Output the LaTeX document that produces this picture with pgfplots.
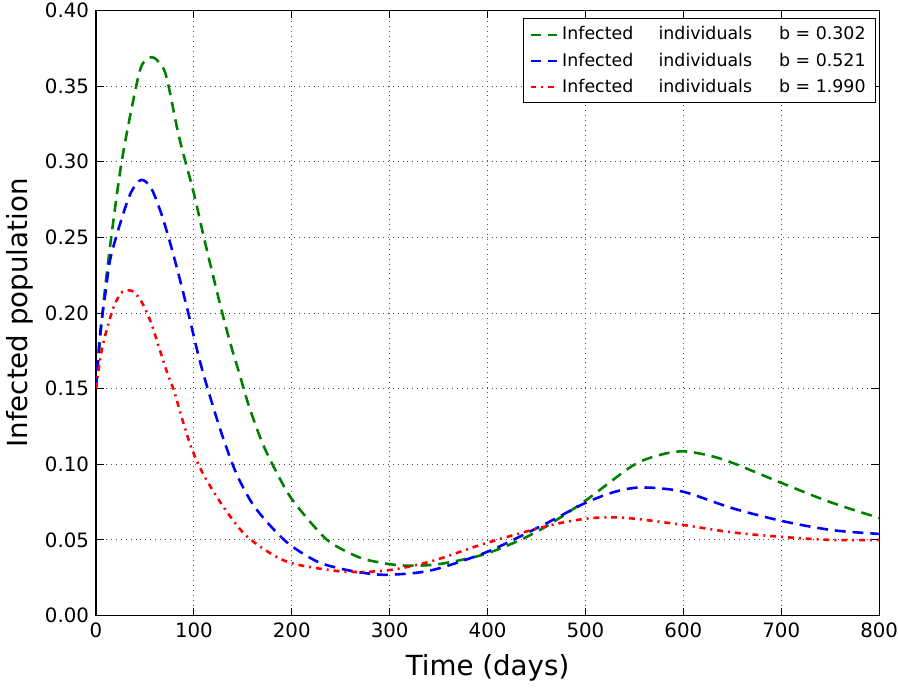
\documentclass[border=0pt]{standalone}
\usepackage{pgfplots}
\pgfplotsset{compat=1.18}
\usepackage{fontspec}
\setmainfont{DejaVu Sans}
\definecolor{mgreen}{RGB}{0,128,0}
\begin{document}
\begin{tikzpicture}
\begin{axis}[
  scale only axis,
  width=396pt, height=306pt,
  xmin=0, xmax=800, ymin=0, ymax=0.40,
  xtick={0,100,...,800},
  ytick={0,0.05,...,0.40},
  yticklabel style={inner ysep=1.5pt, /pgf/number format/.cd,fixed,fixed zerofill,precision=2},
  xticklabel style={inner xsep=0pt},
  /pgf/number format/assume math mode=true,
  scaled y ticks=false,
  tick align=inside,
  major tick length=4pt,
  tick style={black, line width=0.5pt},
  xtick pos=both, ytick pos=both,
  grid=major,
  major grid style={black!70, line width=0.5pt, dotted},
  axis line style={black, line width=0.6pt},
  ticklabel style={font=\fontsize{10}{11}\selectfont},
  xlabel={Time (days)},
  ylabel={Infected population},
  label style={font=\fontsize{14}{16}\selectfont},
  xlabel style={yshift=-1.5pt},
  ylabel style={yshift=-1pt},
  legend style={at={(rel axis cs:0.996,0.987)}, anchor=north east,
    font=\fontsize{8.8}{10}\selectfont, draw=black, line width=0.5pt,
    inner xsep=3pt, inner ysep=2pt, row sep=1pt},
  legend cell align=left,
  legend image code/.code={\draw[#1] (0cm,0cm) -- (0.47cm,0cm);},
]
\addplot[mgreen, line width=1.3pt, dash pattern=on 5.5pt off 3.5pt, smooth] coordinates {
(0,0.150) (6,0.196) (13,0.237) (25,0.295) (36,0.334) (46,0.3625) (56,0.369) (64,0.366) (72,0.356) (85,0.316) (100,0.279) (112,0.245) (129,0.200) (139,0.176) (146,0.161) (156,0.139) (170,0.114) (185,0.094) (199,0.078) (220,0.061) (238,0.049) (260,0.041) (276,0.037) (300,0.034) (320,0.033) (350,0.034) (394,0.040) (430,0.049) (460,0.059) (500,0.076) (548,0.099) (575,0.106) (599,0.1086) (625,0.106) (650,0.101) (701,0.0875) (750,0.075) (800,0.0645)
};
\addplot[blue, line width=1.3pt, dash pattern=on 5.5pt off 3.5pt, smooth] coordinates {
(0,0.150) (4,0.185) (10,0.215) (15,0.237) (27,0.264) (36,0.280) (46,0.288) (56,0.283) (66,0.267) (75,0.248) (85,0.224) (95,0.198) (105,0.171) (115,0.148) (129,0.119) (144,0.093) (163,0.071) (194,0.049) (225,0.036) (250,0.031) (276,0.028) (300,0.027) (343,0.030) (401,0.0425) (460,0.061) (500,0.0745) (531,0.082) (558,0.0847) (599,0.082) (650,0.071) (701,0.0625) (752,0.0565) (800,0.054)
};
\addplot[red, line width=1.3pt, dash pattern=on 3pt off 2.5pt on 1pt off 2.5pt, smooth] coordinates {
(0,0.150) (6,0.176) (15,0.198) (20,0.207) (27,0.214) (37,0.2145) (46,0.208) (56,0.194) (64,0.178) (73,0.160) (80,0.148) (88,0.130) (98,0.110) (110,0.093) (129,0.073) (153,0.053) (184,0.039) (207,0.0335) (255,0.029) (299,0.030) (343,0.036) (394,0.047) (442,0.056) (473,0.061) (500,0.064) (524,0.065) (551,0.064) (599,0.060) (650,0.055) (701,0.052) (752,0.050) (800,0.050)
};
\legend{Infected\hspace{1.45em}individuals\hspace{1.55em}b = 0.302,
        Infected\hspace{1.45em}individuals\hspace{1.55em}b = 0.521,
        Infected\hspace{1.45em}individuals\hspace{1.55em}b = 1.990}
\end{axis}
\end{tikzpicture}
\end{document}
